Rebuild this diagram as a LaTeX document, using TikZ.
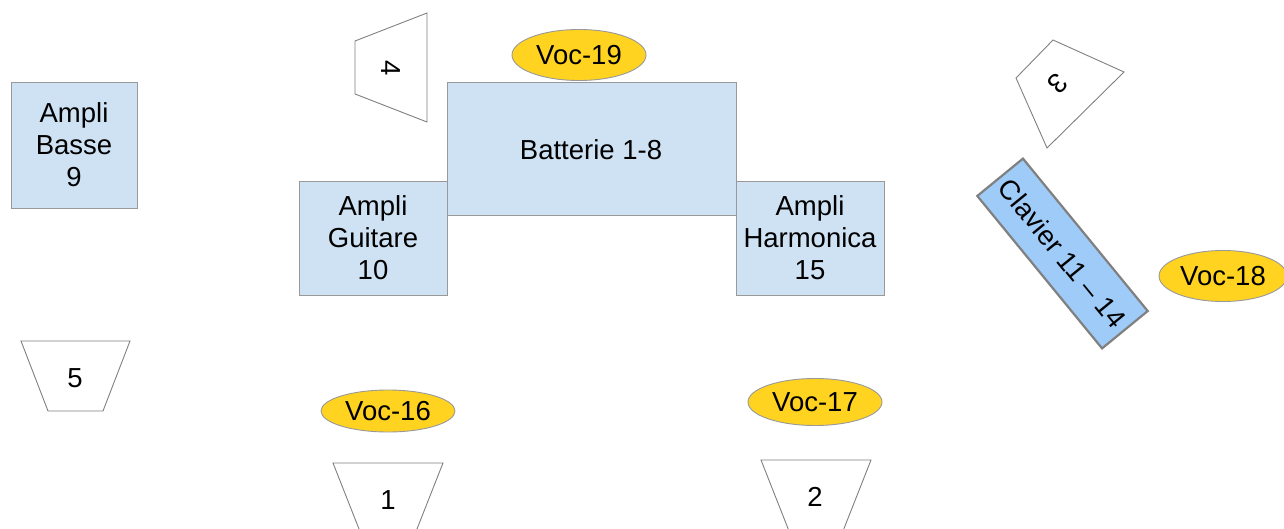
\documentclass[tikz,border=0pt]{standalone}
\usepackage{fontspec}
\setmainfont{Liberation Sans}
\usetikzlibrary{shapes.geometric}
\definecolor{amp}{HTML}{CFE2F3}
\definecolor{clav}{HTML}{9FCBF8}
\definecolor{voc}{HTML}{FFD320}
\definecolor{edge}{HTML}{999999}
\begin{document}
\begin{tikzpicture}[x=1pt,y=-1pt,
  txt/.style={font=\fontsize{27.5}{32}\selectfont,align=center,inner sep=0},
  ampbox/.style={draw=edge,fill=amp,line width=0.9pt},
  vocell/.style={ellipse,draw=edge,fill=voc,line width=0.9pt,inner sep=0,
     font=\fontsize{27.5}{32}\selectfont},
  mon/.style={draw=black!50,fill=white,line width=0.9pt}]
\useasboundingbox (0,0) rectangle (1284,529);
% amplis and drums
\draw[ampbox] (11,82) rectangle (137,208);
\node[txt] (basse) at (74,145) {Ampli\\Basse\\9};
\draw[ampbox] (447,82) rectangle (736,215);
\node[txt] (batt) at (591,150) {Batterie 1-8};
\draw[ampbox] (299,181) rectangle (447,295);
\node[txt] (guit) at (373,238) {Ampli\\Guitare\\10};
\draw[ampbox] (736,181) rectangle (884,295);
\node[txt] (harm) at (810,238) {Ampli\\Harmonica\\15};
% clavier
\node[draw=black!50,fill=clav,line width=2.2pt,rotate=-50.7,minimum width=197pt,
  minimum height=59pt,inner sep=0,font=\fontsize{27.5}{32}\selectfont] (clav) at (1062.5,253.5) {Clavier 11 -- 14};
% vocals
\node[vocell,minimum width=134pt,minimum height=51pt] (v19) at (579,55) {Voc-19};
\node[vocell,minimum width=134pt,minimum height=42pt] (v16) at (388,411) {Voc-16};
\node[vocell,minimum width=134pt,minimum height=47pt] (v17) at (815,402) {Voc-17};
\node[vocell,minimum width=128pt,minimum height=51pt] (v18) at (1223,276) {Voc-18};
% monitors
\draw[mon] (355,41) -- (427,13) -- (427,122) -- (355,94) -- cycle;
\node[txt,rotate=-90] (m4) at (391,68) {4};
\draw[mon] (1016,78) -- (1053,40) -- (1124,72) -- (1047,148) -- cycle;
\node[txt,rotate=-135] (m3) at (1058,84) {3};
\draw[mon] (21,341) -- (130,341) -- (103,411) -- (48,411) -- cycle;
\node[txt] (m5) at (75,378) {5};
\draw[mon] (333,463) -- (443,463) -- (415,534) -- (361,534) -- cycle;
\node[txt] (m1) at (388,500) {1};
\draw[mon] (761,460) -- (871,460) -- (843,531) -- (789,531) -- cycle;
\node[txt] (m2) at (815,497) {2};
\end{tikzpicture}
\end{document}
